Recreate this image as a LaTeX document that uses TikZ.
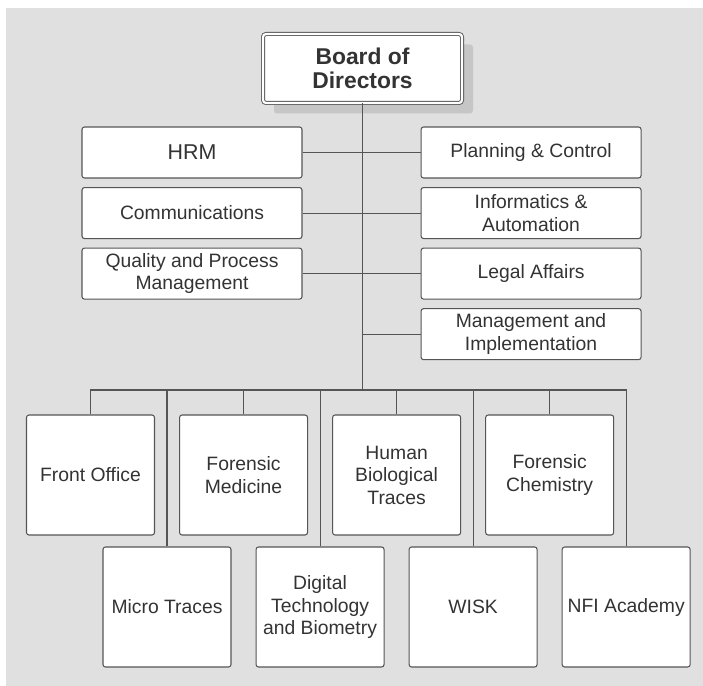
\documentclass[tikz,border=0pt]{standalone}
\usepackage{fontspec}
\setmainfont{Liberation Sans}
\usepackage{xcolor}
\usetikzlibrary{positioning,shadows}
\definecolor{bggray}{HTML}{E0E0E0}
\definecolor{linegray}{HTML}{555555}
\definecolor{textgray}{HTML}{333333}
\definecolor{shadegray}{HTML}{C6C6C6}

\begin{document}
\begin{tikzpicture}[
    font=\fontsize{11}{12.8}\selectfont,
    box/.style={draw=linegray, fill=white, line width=0.6pt, rounded corners=0.5mm, text=textgray, align=center, inner sep=1pt},
    staff/.style={box, minimum width=44mm, minimum height=10.2mm},
    dept/.style={box, minimum width=25.6mm, minimum height=24mm},
    board/.style={draw=linegray, fill=white, line width=0.5pt, double=white, double distance=0.45mm, rounded corners=0.6mm, text=textgray, align=center,
        minimum width=39.8mm, minimum height=13.8mm, font=\bfseries\fontsize{13}{13.7}\selectfont,
        drop shadow={shadow xshift=2.2mm, shadow yshift=-2.1mm, fill=shadegray, opacity=1}},
    conn/.style={draw=linegray, line width=0.6pt}
]
\useasboundingbox (0,0) rectangle (140.6mm,-137.2mm);
\fill[bggray] (1.2mm,-1.6mm) rectangle (140.6mm,-137.2mm);

\node[board] (board) at (72.5mm,-13.7mm) {Board of\\Directors};

\node[staff] (hrm) at (38.4mm,-30.5mm) {\fontsize{12.2}{13}\selectfont HRM};
\node[staff, below=1.7mm of hrm] (comm) {Communications};
\node[staff, below=1.7mm of comm] (quality) {Quality and Process\\Management};
\node[staff, right=23.6mm of hrm] (plan) {Planning \& Control};
\node[staff, below=1.7mm of plan] (info) {Informatics \&\\Automation};
\node[staff, below=1.7mm of info] (legal) {Legal Affairs};
\node[staff, below=1.7mm of legal] (mgmt) {Management and\\Implementation};

\coordinate (bar) at (board.south |- 0,-78mm);

\node[dept] (front) at (18.1mm,-95mm) {Front Office};
\node[dept, right=4.8mm of front] (formed) {Forensic\\Medicine};
\node[dept, right=4.8mm of formed] (human) {Human\\Biological\\Traces};
\node[dept, right=4.8mm of human] (chem) {Forensic\\Chemistry};
\node[dept] (micro) at (33.4mm,-121.4mm) {Micro Traces};
\node[dept, right=4.8mm of micro] (digital) {Digital\\Technology\\and Biometry};
\node[dept, right=4.8mm of digital] (wisk) {WISK};
\node[dept, right=4.8mm of wisk] (nfi) {NFI Academy};

\draw[conn] (board) -- (bar);
\draw[conn] (hrm) -- (plan);
\draw[conn] (comm) -- (info);
\draw[conn] (quality) -- (legal);
\draw[conn] (board) |- (mgmt);
\draw[conn] (front) |- (bar) -| (nfi);
\foreach \dep in {formed,human,chem,micro,digital,wisk}
    \draw[conn] (\dep) -- (\dep |- bar);
\end{tikzpicture}
\end{document}
